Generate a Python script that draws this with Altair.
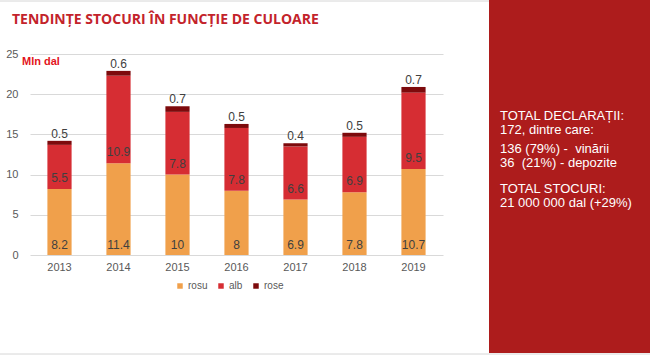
import altair as alt
import pandas as pd

years = ["2013", "2014", "2015", "2016", "2017", "2018", "2019"]
rosu = [8.2, 11.4, 10, 8, 6.9, 7.8, 10.7]
alb = [5.5, 10.9, 7.8, 7.8, 6.6, 6.9, 9.5]
rose = [0.5, 0.6, 0.7, 0.5, 0.4, 0.5, 0.7]
series = ["rosu", "alb", "rose"]
colors = ["#f0a04b", "#d62d33", "#7d0a0c"]

title_text = "TENDINȚE STOCURI ÎN FUNCȚIE DE CULOARE"
unit_text = "Mln dal"
NB = "\u00a0"
panel_lines = [
    "TOTAL DECLARAȚII:",
    "172, dintre care:",
    f"136 (79%) -{NB}{NB}vinării",
    f"{NB}36{NB}{NB}(21%) - depozite",
    "TOTAL STOCURI:",
    "21 000 000 dal (+29%)",
]
panel_y = [116, 130, 149, 163, 189, 203]

PL, PT = 30, 54  # plot origin in page pixels
W, H = 413, 201

rows = []
for i, y in enumerate(years):
    vals = [rosu[i], alb[i], rose[i]]
    base = 0.0
    for k, s in enumerate(series):
        rows.append({"year": y, "series": s, "order": k, "value": vals[k],
                     "start": base, "end": base + vals[k],
                     "label": f"{vals[k]:g}"})
        base += vals[k]
df = pd.DataFrame(rows)

xenc = alt.X("year:N", title=None, sort=years,
             scale=alt.Scale(paddingInner=0.59, paddingOuter=0.295),
             axis=alt.Axis(labelAngle=0, labelFont="Liberation Sans", labelFontSize=11,
                           labelColor="#595959", domain=False, ticks=False, labelPadding=6))

bars = alt.Chart(df).mark_bar().encode(
    x=xenc,
    y=alt.Y("start:Q", title=None,
            scale=alt.Scale(domain=[0, 25], nice=False),
            axis=alt.Axis(values=[0, 5, 10, 15, 20, 25], labelFont="Liberation Sans",
                          labelFontSize=11, labelColor="#595959", domain=False, ticks=False,
                          labelPadding=12, gridColor="#d9d9d9", gridWidth=1)),
    y2="end:Q",
    color=alt.Color("series:N", sort=series,
                    scale=alt.Scale(domain=series, range=colors),
                    legend=alt.Legend(title=None, orient="none", direction="horizontal",
                                      legendX=145, legendY=227, symbolType="square",
                                      symbolSize=30, labelFont="Liberation Sans",
                                      labelFontSize=10, labelColor="#595959",
                                      columnPadding=8, labelOffset=3, symbolStrokeWidth=0)),
    order="order:Q",
)

def lab(name, field, dy):
    return alt.Chart(df).transform_filter(alt.datum.series == name).mark_text(
        font="Liberation Sans", fontSize=12, color="#404040", baseline="middle", dy=dy
    ).encode(x=alt.X("year:N", sort=years), y=alt.Y(f"{field}:Q"), text="label:N")

lab_rosu = lab("rosu", "start", -10)
lab_alb = lab("alb", "start", -11)
lab_rose = lab("rose", "end", -7)

one = pd.DataFrame({"a": [0]})

panel = alt.Chart(one).mark_rect(color="#ad1c1c").encode(
    x=alt.value(489 - PL), x2=alt.value(650 - PL),
    y=alt.value(0 - PT), y2=alt.value(353 - PT))
edge = alt.Chart(one).mark_rule(color="#d6d6d6", strokeWidth=1).encode(
    x=alt.value(0 - PL), x2=alt.value(650 - PL), y=alt.value(354 - PT))
top_edge = alt.Chart(one).mark_rule(color="#d6d6d6", strokeWidth=1).encode(
    x=alt.value(0 - PL), x2=alt.value(489 - PL), y=alt.value(1 - PT))

title = alt.Chart(one).mark_text(
    text=title_text, font="Open Sans", fontWeight="bold", fontSize=14, color="#c3232b",
    align="left", baseline="middle").encode(x=alt.value(12 - PL), y=alt.value(20 - PT))
unit = alt.Chart(one).mark_text(
    text=unit_text, font="Liberation Sans", fontWeight="bold", fontSize=11, color="#e3141c",
    align="left", baseline="middle").encode(x=alt.value(22 - PL), y=alt.value(62 - PT))

panel_texts = [
    alt.Chart(one).mark_text(text=t, font="Liberation Sans", fontSize=13, color="#ffffff",
                             align="left", baseline="middle").encode(
        x=alt.value(500 - PL), y=alt.value(yy - PT))
    for t, yy in zip(panel_lines, panel_y)
]

chart = alt.layer(bars, lab_rosu, lab_alb, lab_rose, panel, edge, top_edge, title, unit,
                  *panel_texts).properties(
    width=W, height=H,
    padding={"left": PL, "top": PT, "right": 650 - PL - W, "bottom": 355 - PT - H},
    autosize=alt.AutoSizeParams(type="none"),
    background="#ffffff",
).configure_view(stroke=None)

chart.save("out.html", embed_options={"renderer": "svg", "actions": False})
